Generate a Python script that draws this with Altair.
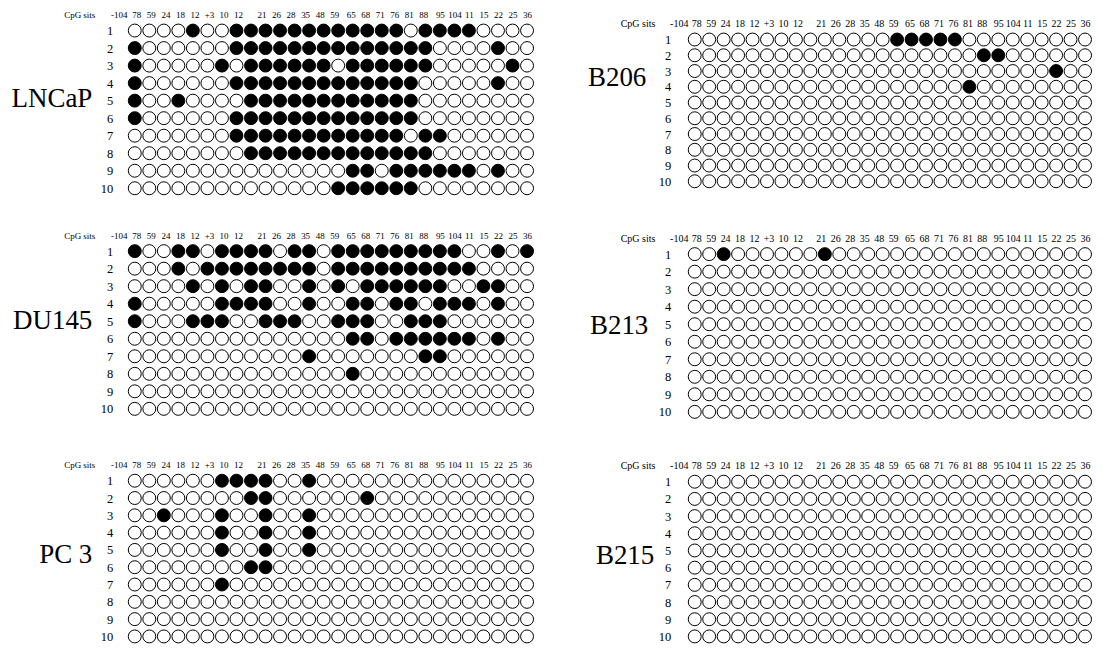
import altair as alt
import pandas as pd

# CpG site labels (column headers), identical for every panel
SITES = ["-104", "78", "59", "24", "18", "12", "+3", "10", "12", "21", "26", "28",
         "35", "48", "59", "65", "68", "71", "76", "81", "88", "95", "104", "11",
         "15", "22", "25", "36"]
CLONES = [1, 2, 3, 4, 5, 6, 7, 8, 9, 10]

# One string per clone (row), one digit per CpG site: 1 = methylated (filled), 0 = open
LNCAP = [
    "0000100111111111111011110000",
    "1000000111111111111110000100",
    "1000001011111101111110000010",
    "1000000111111111111100000100",
    "1001000011111111111100000000",
    "1000000111111111111100000000",
    "0000000111111111111011000000",
    "0000000011111111111110000000",
    "0000000000000001101111110100",
    "0000000000000011111100000000",
]
DU145 = [
    "1001101111011011111111100101",
    "0001011111111011111111110000",
    "0000101011001010111111001100",
    "1000001111001001101101110100",
    "1000111001110011100111000000",
    "0000000000000001101111110100",
    "0000000000001000000011000000",
    "0000000000000001000000000000",
    "0000000000000000000000000000",
    "0000000000000000000000000000",
]
PC3 = [
    "0000001111001000000000000000",
    "0000000011000000100000000000",
    "0010001001001000000000000000",
    "0000001001001000000000000000",
    "0000001001001000000000000000",
    "0000000011000000000000000000",
    "0000001000000000000000000000",
    "0000000000000000000000000000",
    "0000000000000000000000000000",
    "0000000000000000000000000000",
]
B206 = [
    "0000000000000011111000000000",
    "0000000000000000000011000000",
    "0000000000000000000000000100",
    "0000000000000000000100000000",
    "0000000000000000000000000000",
    "0000000000000000000000000000",
    "0000000000000000000000000000",
    "0000000000000000000000000000",
    "0000000000000000000000000000",
    "0000000000000000000000000000",
]
B213 = [
    "0010000001000000000000000000",
    "0000000000000000000000000000",
    "0000000000000000000000000000",
    "0000000000000000000000000000",
    "0000000000000000000000000000",
    "0000000000000000000000000000",
    "0000000000000000000000000000",
    "0000000000000000000000000000",
    "0000000000000000000000000000",
    "0000000000000000000000000000",
]
B215 = ["0" * 28 for _ in CLONES]

FONT = "Liberation Serif"
LABEL_EXPR = "[" + ",".join("'%s'" % s for s in SITES) + "][datum.value]"
# the printed header line is typeset: the first sites sit a little left of their circles
LABEL_SHIFT = {
    "condition": [
        {"test": "datum.value == 0", "value": -16},
        {"test": "datum.value < 9", "value": -13},
        {"test": "datum.value < 15", "value": -4},
        {"test": "datum.value < 21", "value": -2},
    ],
    "value": 0,
}


def table(rows):
    recs = []
    for r, s in zip(CLONES, rows):
        for c, ch in enumerate(s):
            recs.append({"row": r, "col": c, "m": int(ch)})
    return pd.DataFrame(recs)


def point_scale(size, first, last, n):
    """Point scale whose first/last step centres fall at the given pixel offsets."""
    step = (last - first) / (n - 1)
    pad = (size / step - (n - 1)) / 2
    align = first / (2 * pad * step)
    return alt.Scale(type="point", padding=pad, align=align)


def panel(name, rows, width, height, xs, ys, title_x, title_y, row_pad, head_off, head_fs):
    return (
        alt.Chart(table(rows))
        .mark_circle(size=168, stroke="black", strokeWidth=1, opacity=1)
        .encode(
            x=alt.X(
                "col:O",
                scale=point_scale(width, xs[0], xs[1], len(SITES)),
                axis=alt.Axis(
                    orient="top", labelExpr=LABEL_EXPR, labelAngle=0, labelFont=FONT,
                    labelFontSize=head_fs, labelColor="black", labelPadding=4,
                    labelOffset=LABEL_SHIFT,
                    labelOverlap=False, ticks=False, tickSize=0, domain=False,
                    grid=False, offset=head_off, title="CpG sits", titleFont=FONT,
                    titleFontSize=head_fs, titleFontWeight="normal", titleColor="black",
                    titleX=-33, titleY=-4, titleAlign="right", titleBaseline="bottom",
                    titleAngle=0,
                ),
            ),
            y=alt.Y(
                "row:O",
                scale=point_scale(height, ys[0], ys[1], len(CLONES)),
                axis=alt.Axis(
                    orient="left", labelFont=FONT, labelFontSize=12.5,
                    labelColor="black", labelPadding=row_pad, ticks=False, tickSize=0,
                    domain=False, grid=False, title=name, titleFont=FONT,
                    titleFontSize=27, titleFontWeight="normal", titleColor="black",
                    titleAngle=0, titleAlign="right", titleBaseline="middle",
                    titleX=title_x, titleY=title_y,
                ),
            ),
            fill=alt.Fill("m:N", scale=alt.Scale(domain=[0, 1], range=["white", "black"]),
                          legend=None),
        )
        .properties(width=width, height=height)
    )


left = alt.vconcat(
    panel("LNCaP", LNCAP, 407, 172, (7, 400), (7, 165), -36, 75, 15, 0, 9),
    panel("DU145", DU145, 407, 181, (7, 400), (7, 165), -36, 77, 15, 0, 9),
    panel("PC 3", PC3, 407, 170, (7, 400), (7, 163), -36, 81, 15, 0, 9),
    spacing=49, bounds="flush",
)
right = alt.vconcat(
    panel("B206", B206, 405, 168, (7, 398), (16, 158), -42, 54, 17, -9, 10),
    panel("B213", B213, 405, 172, (7, 398), (7, 165), -40, 79, 17, 0, 10),
    panel("B215", B215, 405, 169, (7, 398), (7, 162), -34, 81, 17, 0, 10),
    spacing=56, bounds="flush",
)

chart = (
    alt.hconcat(left, right, spacing=51)
    .properties(padding={"left": 3, "top": 2, "right": 0, "bottom": 0})
    .configure_view(strokeWidth=0)
)

chart.save("out.html", embed_options={"renderer": "svg", "actions": False})
